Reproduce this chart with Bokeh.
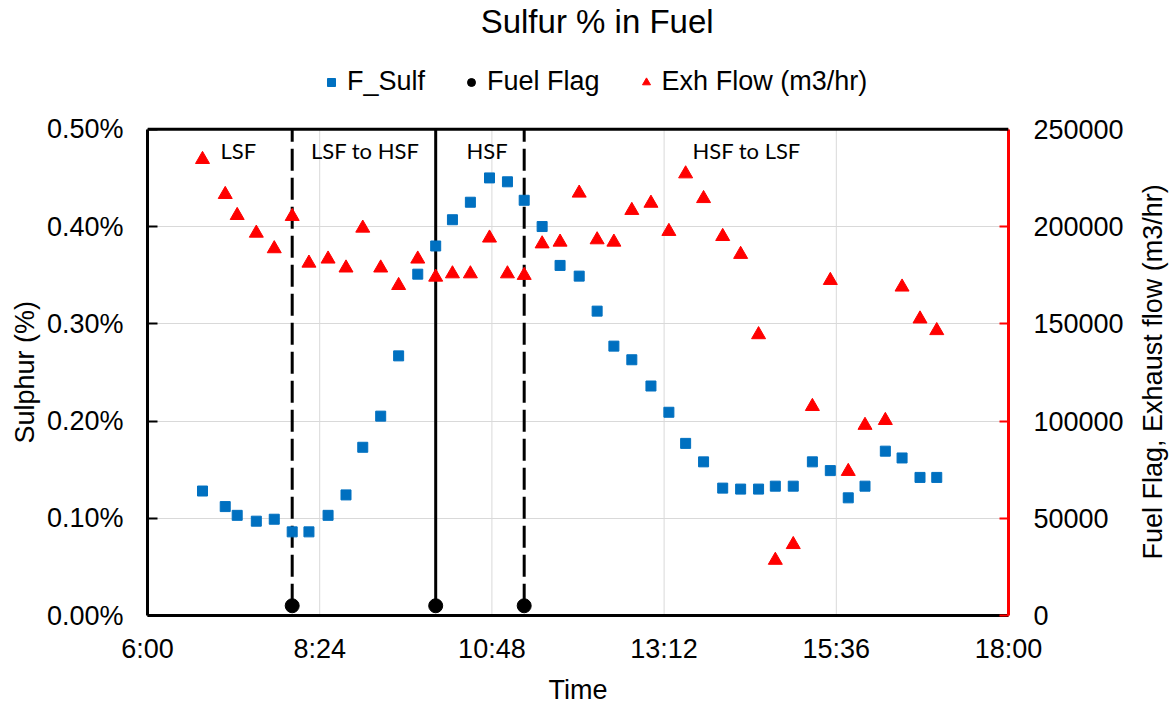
import math
from bokeh.plotting import figure
from bokeh.models import (Range1d, LinearAxis, FixedTicker, PrintfTickFormatter,
                          Legend, LegendItem, Label, Span, Title)
from bokeh.embed import file_html
from bokeh.resources import INLINE

# ---------------- data ----------------
title_text = "Sulfur % in Fuel"
times = ["6:46", "7:05", "7:15", "7:31", "7:46", "8:01", "8:15", "8:31", "8:46", "9:00",
         "9:15", "9:30", "9:46", "10:01", "10:15", "10:30", "10:46", "11:01", "11:15", "11:30",
         "11:45", "12:01", "12:16", "12:30", "12:45", "13:01", "13:16", "13:30", "13:45", "14:01",
         "14:16", "14:31", "14:45", "15:00", "15:16", "15:31", "15:46", "16:00", "16:17", "16:31",
         "16:46", "17:00"]
f_sulf = [0.128, 0.112, 0.103, 0.097, 0.099, 0.086, 0.086, 0.103, 0.124, 0.173,
          0.205, 0.267, 0.351, 0.380, 0.407, 0.425, 0.450, 0.446, 0.427, 0.400,
          0.360, 0.349, 0.313, 0.277, 0.263, 0.236, 0.209, 0.177, 0.158, 0.131,
          0.130, 0.130, 0.133, 0.133, 0.158, 0.149, 0.121, 0.133, 0.169, 0.162,
          0.142, 0.142]
exh_flow = [234500, 216500, 205700, 196600, 188600, 205200, 181200, 183300, 178700, 199200,
            178700, 169700, 183300, 174000, 175700, 175700, 194100, 175700, 174900, 191100,
            192000, 217200, 193200, 192000, 208300, 212000, 197500, 227100, 214400, 194900,
            185700, 144400, 28400, 36500, 107500, 172300, 74100, 97800, 100300, 168900,
            152500, 146500]
flag_times = ["8:01", "10:01", "11:15"]
fuel_flag = [5000, 5000, 5000]
flag_line_dash = ["22 7", "solid", "22 7"]
phase_names = ["LSF", "LSF to HSF", "HSF", "HSF to LSF"]
x_tick_labels = ["6:00", "8:24", "10:48", "13:12", "15:36", "18:00"]
left_ticks = [0.0, 0.1, 0.2, 0.3, 0.4, 0.5]
right_ticks = [0, 50000, 100000, 150000, 200000, 250000]
series_names = ["F_Sulf", "Fuel Flag", "Exh Flow (m3/hr)"]
x_axis_title = "Time"
left_axis_title = "Sulphur (%)"
right_axis_title = "Fuel Flag, Exhaust flow (m3/hr)"

# ---------------- layout constants (not data) ----------------
phase_label_times = ["7:16", "9:02", "10:44", "14:21"]
PHASE_LABEL_Y = 0.4785
TITLE_TIME = "12:16"
TITLE_Y = 0.6105
W, H = 1172, 707
BORDER_L, BORDER_R, BORDER_B = 147, 164, 91
BOX_H = 487                       # pixel height of the 0..0.50% box
FRAME_H = H - BORDER_B            # frame reaches the top edge of the canvas
FRAME_W = W - BORDER_L - BORDER_R
LEGEND_LOC = (174, 518)
LEFT_TITLE_OFFSET = 172           # px from the frame bottom to the start of the text
RIGHT_TITLE_PX = (1152, 372)      # canvas position of the right axis title centre


def minutes(t):
    h, m = t.split(":")
    return int(h) * 60 + int(m)


FONT = "Liberation Sans"
x_min = [minutes(t) for t in times]
flag_x = [minutes(t) for t in flag_times]
x_tick_pos = [minutes(t) for t in x_tick_labels]
stretch = FRAME_H / BOX_H
y_top = left_ticks[-1] * stretch

p = figure(width=W, height=H, output_backend="svg", toolbar_location=None, title=None,
           x_range=Range1d(x_tick_pos[0], x_tick_pos[-1]),
           y_range=Range1d(left_ticks[0], y_top),
           min_border_left=BORDER_L, min_border_right=BORDER_R,
           min_border_top=0, min_border_bottom=BORDER_B,
           x_axis_label=x_axis_title)
p.extra_y_ranges = {"flow": Range1d(right_ticks[0], right_ticks[-1] * stretch)}
p.background_fill_color = "white"
p.border_fill_color = "white"
p.outline_line_color = None

# grids
p.xgrid.visible = False
p.ygrid.ticker = FixedTicker(ticks=left_ticks[1:-1])
p.ygrid.grid_line_color = "#d9d9d9"
p.ygrid.grid_line_width = 1
inner_x = x_tick_pos[1:-1]
p.segment(x0=inner_x, y0=[left_ticks[0]] * len(inner_x), x1=inner_x,
          y1=[left_ticks[-1]] * len(inner_x), line_color="#d9d9d9", line_width=1)

# flag lines (drawn first, under markers)
for t, v, dash in zip(flag_x, fuel_flag, flag_line_dash):
    p.segment(x0=[t], y0=[v], x1=[t], y1=[right_ticks[-1]], line_color="black",
              line_width=3, line_dash=dash, y_range_name="flow")

r_sq = p.scatter(x_min, f_sulf, marker="square", size=10, color="#0070C0")
r_c = p.scatter(flag_x, fuel_flag, marker="circle", size=14, color="black",
                y_range_name="flow")
r_tri = p.scatter(x_min, exh_flow, marker="triangle", size=14, color="#FF0000",
                  y_range_name="flow")

# top edge of the plot box
p.add_layout(Span(location=left_ticks[-1], dimension="width", line_color="black",
                  line_width=3))

# axes
def style_axis(ax, color="black"):
    ax.axis_line_color = color
    ax.axis_line_width = 3
    ax.major_tick_line_color = color
    ax.major_tick_line_width = 2
    ax.minor_tick_line_color = None
    ax.major_label_text_font = FONT
    ax.major_label_text_font_size = "27px"
    ax.major_label_text_color = "black"
    ax.axis_label_text_font = FONT
    ax.axis_label_text_font_size = "27px"
    ax.axis_label_text_font_style = "normal"
    ax.axis_label_text_color = "black"


xa = p.xaxis[0]
style_axis(xa)
xa.ticker = FixedTicker(ticks=x_tick_pos)
xa.major_label_overrides = dict(zip(x_tick_pos, x_tick_labels))
xa.major_tick_in = 0
xa.major_tick_out = 0
xa.major_label_standoff = 18
xa.axis_label_standoff = 8

ya = p.yaxis[0]
style_axis(ya)
ya.bounds = (left_ticks[0], left_ticks[-1])
ya.ticker = FixedTicker(ticks=left_ticks)
ya.formatter = PrintfTickFormatter(format="%.2f%%")
ya.major_tick_in = 10
ya.major_tick_out = 0
ya.major_label_standoff = 24

# left axis title, centred on the 0..0.50% box
p.add_layout(Title(text=left_axis_title, align="left", offset=LEFT_TITLE_OFFSET, standoff=7,
                   text_font=FONT, text_font_size="27px", text_font_style="normal",
                   text_color="black"), "left")

ra = LinearAxis(y_range_name="flow", ticker=FixedTicker(ticks=right_ticks),
                bounds=(right_ticks[0], right_ticks[-1]),
                formatter=PrintfTickFormatter(format="%d"))
style_axis(ra, "#FF0000")
ra.major_tick_in = 9
ra.major_tick_out = 0
ra.major_label_standoff = 25
p.add_layout(ra, "right")

# right axis title (reads bottom-to-top, centred on the box)
rx = x_tick_pos[0] + (RIGHT_TITLE_PX[0] - BORDER_L) * (x_tick_pos[-1] - x_tick_pos[0]) / FRAME_W
ry = (FRAME_H - RIGHT_TITLE_PX[1]) / FRAME_H * y_top
p.add_layout(Label(x=rx, y=ry, text=right_axis_title, angle=math.pi / 2,
                   text_align="center", text_baseline="middle", text_font=FONT,
                   text_font_size="27px", text_color="black"), "right")

# phase labels
for name, t in zip(phase_names, phase_label_times):
    p.add_layout(Label(x=minutes(t), y=PHASE_LABEL_Y, text=name, text_align="center",
                       text_baseline="alphabetic", text_font="Lato",
                       text_font_size="22px", text_color="black"))

# chart title
p.add_layout(Label(x=minutes(TITLE_TIME), y=TITLE_Y, text=title_text, text_align="center",
                   text_baseline="alphabetic", text_font=FONT, text_font_size="33px",
                   text_color="black"))

# legend above the box
legend = Legend(items=[LegendItem(label=series_names[0], renderers=[r_sq]),
                       LegendItem(label=series_names[1], renderers=[r_c]),
                       LegendItem(label=series_names[2], renderers=[r_tri])],
                orientation="horizontal", location=LEGEND_LOC,
                border_line_color=None, background_fill_alpha=0,
                label_text_font=FONT, label_text_font_size="27px",
                label_text_color="black",
                glyph_width=20, glyph_height=20, label_standoff=6, spacing=36,
                padding=0, margin=0)
p.add_layout(legend, "center")

open("out.html", "w").write(file_html(p, INLINE))
